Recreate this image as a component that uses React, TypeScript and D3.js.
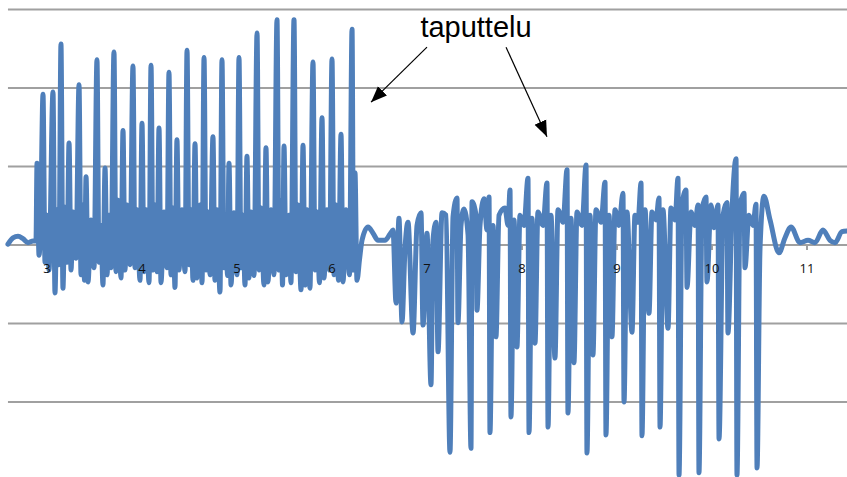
import * as d3 from 'd3';
import { useEffect, useRef } from 'react';

// time (s) and signal
const quietStart: [number, number][] = [
  [2.589, 0.01], [2.642, 0.09], [2.695, 0.11], [2.747, 0.08], [2.8, 0.03], [2.853, 0.05], [2.884, 0.05],
];

const tappingOne: [number, number][] = [
  [2.895, 1.04], [2.916, -0.13], [2.932, 0.22],
  [2.958, 1.92], [2.979, -0.22], [3.0, 0.38], [3.021, -0.32],
  [3.063, 1.95], [3.084, -0.61], [3.105, 0.45], [3.126, -0.25],
  [3.147, 2.56], [3.168, -0.55], [3.189, 0.48], [3.211, -0.22],
  [3.232, 1.3], [3.253, -0.32], [3.274, 0.42], [3.305, -0.17],
  [3.337, 2.04], [3.358, -0.38], [3.379, 0.51], [3.395, -0.45],
  [3.411, 0.87], [3.432, -0.47], [3.463, 0.32], [3.495, -0.29],
  [3.526, 2.36], [3.547, -0.22], [3.568, 0.25], [3.589, -0.51],
  [3.611, 0.98], [3.632, -0.38], [3.653, 0.38], [3.674, -0.29],
  [3.705, 2.46], [3.726, -0.34], [3.747, 0.57], [3.779, -0.42],
  [3.8, 1.46], [3.821, -0.32], [3.842, 0.51], [3.874, -0.25],
  [3.905, 2.28], [3.926, -0.29], [3.947, 0.45], [3.979, -0.45],
  [4.0, 1.55], [4.021, -0.34], [4.042, 0.45], [4.074, -0.48],
  [4.095, 2.29], [4.116, -0.32], [4.137, 0.51], [4.158, -0.34],
  [4.179, 1.49], [4.2, -0.48], [4.232, 0.42], [4.263, -0.29],
  [4.284, 2.2], [4.305, -0.38], [4.326, 0.47], [4.347, -0.54],
  [4.368, 1.34], [4.389, -0.32], [4.421, 0.45], [4.453, -0.34],
  [4.474, 2.48], [4.495, -0.25], [4.516, 0.45], [4.537, -0.45],
  [4.558, 1.29], [4.579, -0.42], [4.611, 0.51], [4.632, -0.48],
  [4.653, 2.39], [4.674, -0.32], [4.695, 0.42], [4.716, -0.38],
  [4.747, 1.38], [4.768, -0.45], [4.789, 0.45], [4.821, -0.6],
  [4.842, 2.36], [4.863, -0.29], [4.884, 0.34], [4.9, -0.39],
  [4.916, 1.04], [4.937, -0.51], [4.968, 0.41], [5.0, -0.38],
  [5.021, 2.39], [5.042, -0.29], [5.063, 0.38], [5.084, -0.51],
  [5.105, 1.13], [5.126, -0.42], [5.147, 0.42], [5.179, -0.39],
  [5.211, 2.7], [5.232, -0.32], [5.253, 0.47], [5.284, -0.51],
  [5.305, 1.24], [5.326, -0.47], [5.358, 0.45], [5.389, -0.38],
  [5.421, 2.87], [5.442, -0.32], [5.463, 0.57], [5.479, -0.51],
  [5.495, 1.26], [5.516, -0.38], [5.547, 0.38], [5.568, -0.48],
  [5.6, 2.87], [5.621, -0.34], [5.642, 0.51], [5.674, -0.57],
  [5.695, 1.27], [5.716, -0.51], [5.737, 0.45], [5.768, -0.55],
  [5.8, 2.33], [5.821, -0.32], [5.842, 0.42], [5.868, -0.48],
  [5.895, 1.62], [5.916, -0.42], [5.947, 0.45], [5.974, -0.32],
  [6.0, 2.37], [6.021, -0.38], [6.042, 0.51], [6.068, -0.45],
  [6.095, 1.41], [6.116, -0.47], [6.147, 0.45], [6.184, -0.38],
  [6.211, 2.75], [6.226, -0.32], [6.242, 0.92], [6.263, -0.45],
];

const pause: [number, number][] = [
  [6.29, -0.18], [6.316, 0.06], [6.379, 0.23], [6.432, 0.15], [6.484, 0.06], [6.558, 0.06], [6.611, 0.14], [6.642, 0.19],
];

const tappingTwo: [number, number][] = [
  [6.674, -0.74], [6.705, 0.34], [6.737, -0.98], [6.768, -0.06], [6.8, 0.29], [6.853, -1.12], [6.895, 0.25],
  [6.937, 0.41], [6.958, -1.02], [7.0, 0.15], [7.042, -1.78], [7.063, 0.06], [7.095, 0.29], [7.116, -1.36],
  [7.158, 0.41], [7.2, 0.38], [7.242, -2.64], [7.274, 0.36], [7.316, 0.6], [7.326, -0.99], [7.358, 0.25],
  [7.389, 0.46], [7.432, 0.13], [7.463, -2.59], [7.474, 0.55], [7.516, 0.38], [7.526, -0.83], [7.558, 0.25],
  [7.6, 0.59], [7.632, 0.19], [7.653, 0.61], [7.663, -2.39], [7.695, 0.25], [7.726, -1.17], [7.758, 0.38],
  [7.821, 0.47], [7.853, 0.25], [7.874, 0.7], [7.884, -2.19], [7.916, 0.32], [7.947, -1.3], [7.979, 0.38],
  [8.021, 0.25], [8.063, 0.85], [8.074, -2.39], [8.105, 0.34], [8.137, -1.25], [8.168, 0.42], [8.221, 0.25],
  [8.263, 0.79], [8.274, -2.32], [8.305, 0.38], [8.347, -1.44], [8.379, 0.45], [8.432, 0.29], [8.474, 0.96],
  [8.484, -2.14], [8.516, 0.34], [8.547, -1.5], [8.579, 0.42], [8.632, 0.25], [8.674, 1.02], [8.684, -2.65],
  [8.716, 0.38], [8.747, -1.4], [8.779, 0.45], [8.832, 0.29], [8.874, 0.8], [8.884, -2.42], [8.916, 0.38],
  [8.947, -1.17], [8.979, 0.45], [9.021, 0.25], [9.063, 0.66], [9.074, -2.0], [9.105, 0.42], [9.158, -1.11],
  [9.189, 0.38], [9.221, 0.29], [9.253, 0.79], [9.263, -2.43], [9.295, 0.45], [9.337, -0.87], [9.368, 0.42],
  [9.411, 0.32], [9.442, 0.6], [9.453, -2.32], [9.484, 0.45], [9.537, -1.06], [9.568, 0.47], [9.611, 0.32],
  [9.642, 0.85], [9.653, -2.93], [9.684, 0.51], [9.726, 0.7], [9.737, -0.54], [9.779, 0.42], [9.821, 0.25],
  [9.853, 0.51], [9.863, -2.9], [9.895, 0.45], [9.937, 0.61], [9.947, -0.47], [9.989, 0.51], [10.021, 0.22],
  [10.063, 0.51], [10.074, -2.47], [10.116, 0.38], [10.158, 0.54], [10.168, -1.12], [10.211, 0.45],
  [10.253, 1.1], [10.263, -2.93], [10.295, 0.51], [10.337, 0.66], [10.347, -0.29], [10.389, 0.38],
  [10.432, 0.25], [10.463, 0.52], [10.474, -2.84], [10.505, -0.06], [10.547, 0.62],
];

const settle: [number, number][] = [
  [10.611, 0.32], [10.705, -0.1], [10.768, 0.09], [10.832, 0.23], [10.926, 0.03], [11.011, 0.06],
  [11.084, 0.03], [11.168, 0.19], [11.242, 0.06], [11.295, 0.03], [11.368, 0.17], [11.421, 0.18],
];

const xTicks = [3, 4, 5, 6, 7, 8, 9, 10, 11];
const gridValues = [3, 2, 1, 0, -1, -2];

const note = 'taputtelu';
const noteAt: [number, number] = [7.516, 2.65];
const arrows: [number, number, number, number][] = [
  [7.0, 2.52, 6.411, 1.82],
  [7.832, 2.52, 8.263, 1.38],
];

const W = 847;
const H = 477;

export default function App() {
  const ref = useRef<SVGSVGElement>(null);

  useEffect(() => {
    document.body.style.margin = '0';
    const svg = d3.select(ref.current);
    svg.selectAll('*').remove();

    const x = d3.scaleLinear().domain([3, 11]).range([47, 807]);
    const y = d3.scaleLinear().domain([-3, 3]).range([480.5, 9.5]);
    const left = x(2.589);

    // gridlines
    svg.append('g')
      .selectAll('line')
      .data(gridValues)
      .enter()
      .append('line')
      .attr('x1', left)
      .attr('x2', W)
      .attr('y1', (d) => y(d))
      .attr('y2', (d) => y(d))
      .attr('stroke', '#a0a0a0')
      .attr('stroke-width', 2);

    // ticks on the zero line
    svg.append('g')
      .selectAll('line')
      .data(xTicks)
      .enter()
      .append('line')
      .attr('x1', (d) => x(d))
      .attr('x2', (d) => x(d))
      .attr('y1', y(0))
      .attr('y2', y(0) + 5)
      .attr('stroke', '#a0a0a0')
      .attr('stroke-width', 2);

    const data = [...quietStart, ...tappingOne, ...pause, ...tappingTwo, ...settle];
    const line = d3.line<[number, number]>()
      .x((d) => x(d[0]))
      .y((d) => y(d[1]))
      .curve(d3.curveMonotoneX);

    svg.append('path')
      .datum(data)
      .attr('d', line)
      .attr('fill', 'none')
      .attr('stroke', '#4f7fba')
      .attr('stroke-width', 5)
      .attr('stroke-linejoin', 'round')
      .attr('stroke-linecap', 'round');

    // tick labels
    svg.append('g')
      .selectAll('text')
      .data(xTicks)
      .enter()
      .append('text')
      .attr('x', (d) => x(d))
      .attr('y', y(0) + 28)
      .attr('text-anchor', 'middle')
      .style('font-family', 'Open Sans, sans-serif')
      .style('font-size', '13px')
      .attr('fill', '#111')
      .text((d) => d);

    // annotation
    const defs = svg.append('defs');
    defs.append('marker')
      .attr('id', 'head')
      .attr('viewBox', '0 0 10 10')
      .attr('refX', 10)
      .attr('refY', 5)
      .attr('markerWidth', 16)
      .attr('markerHeight', 16)
      .attr('markerUnits', 'userSpaceOnUse')
      .attr('orient', 'auto')
      .append('path')
      .attr('d', 'M0,1 L10,5 L0,9 Z')
      .attr('fill', '#000');

    svg.append('g')
      .selectAll('line')
      .data(arrows)
      .enter()
      .append('line')
      .attr('x1', (d) => x(d[0]))
      .attr('y1', (d) => y(d[1]))
      .attr('x2', (d) => x(d[2]))
      .attr('y2', (d) => y(d[3]))
      .attr('stroke', '#000')
      .attr('stroke-width', 1.2)
      .attr('marker-end', 'url(#head)');

    svg.append('text')
      .attr('x', x(noteAt[0]))
      .attr('y', y(noteAt[1]))
      .attr('text-anchor', 'middle')
      .style('font-family', 'Liberation Sans, Arial, sans-serif')
      .style('font-size', '29px')
      .attr('fill', '#000')
      .text(note);
  }, []);

  return (
    <svg
      ref={ref}
      width={W}
      height={H}
      style={{ position: 'absolute', left: 0, top: 0, display: 'block', background: '#fff' }}
    />
  );
}
